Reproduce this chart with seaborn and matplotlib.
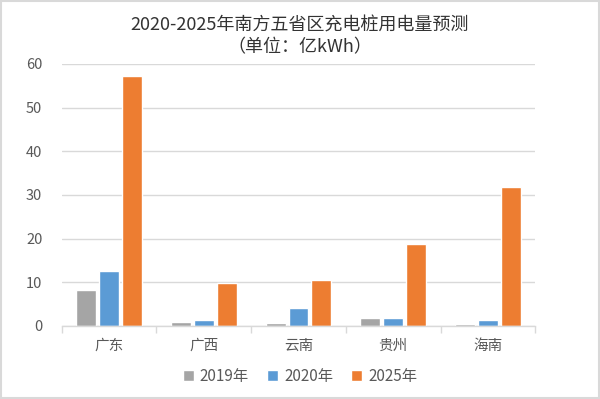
import pandas as pd
import numpy as np
import matplotlib
matplotlib.use("Agg")
import matplotlib.pyplot as plt
import seaborn as sns
from matplotlib.patches import Rectangle

# --- data ---
provinces = ["广东", "广西", "云南", "贵州", "海南"]
years = ["2019年", "2020年", "2025年"]
v2019 = [8.2, 0.8, 0.6, 1.9, 0.4]
v2020 = [12.6, 1.4, 4.1, 1.9, 1.4]
v2025 = [57.2, 9.9, 10.6, 18.8, 31.8]

df = pd.DataFrame({
    "province": provinces * 3,
    "year": [years[0]] * 5 + [years[1]] * 5 + [years[2]] * 5,
    "value": v2019 + v2020 + v2025,
})

sns.set_theme(style="white")
plt.rcParams['font.family'] = ['Noto Sans CJK SC', 'DejaVu Sans']

palette = ["#A5A5A5", "#5B9BD5", "#ED7D31"]

fig = plt.figure(figsize=(6, 3.99), dpi=100)
ax = fig.add_axes([0.103, 0.183, 0.789, 0.657])

sns.barplot(data=df, x="province", y="value", hue="year", palette=palette,
            saturation=1, width=0.72, gap=0.12, ax=ax, legend=True)

ax.set_ylim(0, 60)
ax.set_yticks(range(0, 61, 10))
ax.set_xlim(-0.5, 4.5)
ax.yaxis.grid(True, color="#D9D9D9", linewidth=1)
ax.set_axisbelow(True)
for s in ["top", "right", "left"]:
    ax.spines[s].set_visible(False)
ax.spines["bottom"].set_color("#D9D9D9")
ax.spines["bottom"].set_linewidth(1)

# category boundary ticks
ax.set_xticks(np.arange(-0.5, 5, 1), minor=True)
ax.tick_params(axis="x", which="minor", length=5, color="#D9D9D9", width=1, bottom=True)
ax.tick_params(axis="x", which="major", length=0, pad=9, labelsize=10.5, labelcolor="#595959")
ax.tick_params(axis="y", length=0, labelsize=10.5, labelcolor="#595959", pad=14)
ax.set_xlabel("")
ax.set_ylabel("")

fig.suptitle("2020-2025年南方五省区充电桩用电量预测\n（单位：亿kWh）", y=0.958,
             fontsize=13, fontweight="medium", color="#333333", linespacing=1.25)

handles, labels = ax.get_legend_handles_labels()
ax.legend_.remove()
fig.legend(handles, labels, loc="center", bbox_to_anchor=(0.5, 0.057), ncol=3,
           frameon=False, fontsize=11, handlelength=0.7, handleheight=0.7,
           handletextpad=0.4, columnspacing=1.2, labelcolor="#595959")

fig.patches.append(Rectangle((0.002, 0.003), 0.996, 0.994, transform=fig.transFigure,
                             fill=False, edgecolor="#D9D9D9", linewidth=1.5))

fig.savefig("out.png", dpi=100)
